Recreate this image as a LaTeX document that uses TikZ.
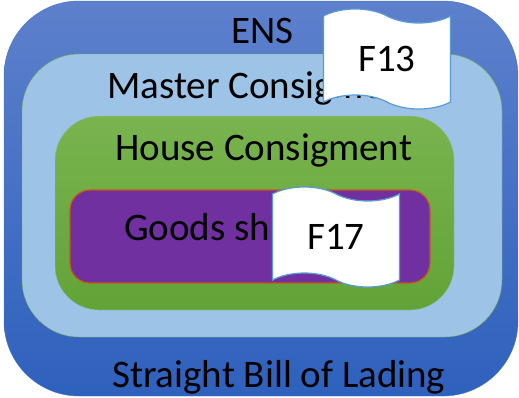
\documentclass[tikz,border=0pt]{standalone}
\usepackage{fontspec}
\setmainfont{Carlito}
\usetikzlibrary{shapes.symbols}
\definecolor{ensTop}{RGB}{93,128,204}
\definecolor{ensBot}{RGB}{46,97,189}
\definecolor{ensLine}{RGB}{68,114,196}
\definecolor{masterFill}{RGB}{157,195,230}
\definecolor{masterLine}{RGB}{112,173,71}
\definecolor{houseTop}{RGB}{121,180,78}
\definecolor{houseBot}{RGB}{98,163,55}
\definecolor{goodsFill}{RGB}{112,48,160}
\definecolor{goodsLine}{RGB}{197,90,17}
\definecolor{flagLine}{RGB}{91,155,213}
\tikzset{
  boxtext/.style={font=\fontsize{39}{44}\selectfont, inner sep=0pt, anchor=base west},
  flagnote/.style={tape, draw=flagLine, fill=white, line width=1.2pt,
    tape bend top=out and in, tape bend bottom=out and in,
    minimum width=127pt, minimum height=100pt, tape bend height=14pt,
    inner sep=0pt, font=\fontsize{39}{44}\selectfont}
}
\begin{document}
\begin{tikzpicture}[x=1pt,y=-1pt]
  \useasboundingbox (0,0) rectangle (519,397);
  % nested boxes
  \shadedraw[top color=ensTop, bottom color=ensBot, draw=ensLine, rounded corners=75pt] (4,1) rectangle (518,396);
  \draw[fill=masterFill, draw=masterLine, rounded corners=57pt] (22,54) rectangle (502,337);
  \shadedraw[top color=houseTop, bottom color=houseBot, draw=masterFill!70!houseTop, rounded corners=44pt] (55,116) rectangle (454,310);
  \draw[fill=goodsFill, draw=goodsLine, line width=1.2pt, rounded corners=20pt] (70,190) rectangle (430,283);
  % labels
  \node[boxtext] (ens) at (231,43) {ENS};
  \node[boxtext] (master) at (107,98) {Master Consigment};
  \node[boxtext] (house) at (115,160) {House Consigment};
  \node[boxtext] (goods) at (124,240) {Goods shipment};
  \node[boxtext] (bill) at (112,387) {Straight Bill of Lading};
  % notes on top
  \node[flagnote] (f13) at (387,59) {F13};
  \node[flagnote] (f17) at (336,237) {F17};
\end{tikzpicture}
\end{document}
